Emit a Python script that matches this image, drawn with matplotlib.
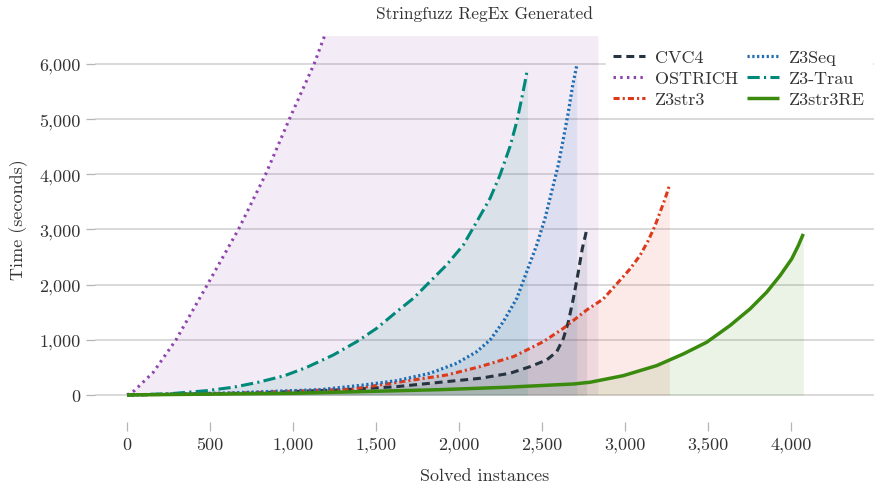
import matplotlib
matplotlib.use("Agg")
import numpy as np
from matplotlib import pyplot as plt
from matplotlib.ticker import FuncFormatter

plt.rcParams['font.family'] = ['cmr10', 'DejaVu Serif']
plt.rcParams['mathtext.fontset'] = 'cm'
plt.rcParams['axes.formatter.use_mathtext'] = True

# Cactus data (solved instances vs. cumulative time)
cvc4_x = [0, 700, 1323, 1625, 1926, 2127, 2307, 2428, 2528, 2589, 2629, 2659, 2689, 2719, 2743, 2769]
cvc4_y = [0, 30, 96, 151, 242, 302, 393, 513, 634, 785, 1027, 1329, 1752, 2235, 2658, 2990]

# OSTRICH leaves the plot at the top; its tail above 6500 s is hidden
ostrich_x = [0, 44, 158, 295, 484, 671, 835, 978, 1127, 1189, 1500, 2000, 2500, 2840]
ostrich_y = [0, 78, 411, 1000, 2000, 3000, 4000, 5000, 6000, 6500, 9000, 14000, 20000, 26000]

z3str3_x = [0, 700, 1361, 1725, 1926, 2127, 2328, 2508, 2629, 2769, 2869, 2950, 3030, 3090,
            3140, 3181, 3211, 3241, 3267]
z3str3_y = [0, 35, 109, 272, 362, 513, 695, 966, 1208, 1540, 1740, 2012, 2284, 2526,
            2798, 3069, 3311, 3553, 3794]

z3seq_x = [0, 600, 1163, 1424, 1625, 1825, 1986, 2107, 2187, 2267, 2348, 2408, 2468, 2518,
           2558, 2598, 2629, 2659, 2685, 2709]
z3seq_y = [0, 35, 96, 180, 260, 393, 574, 785, 997, 1329, 1752, 2235, 2718, 3201,
           3684, 4168, 4651, 5134, 5617, 5968]

z3trau_x = [0, 250, 480, 640, 791, 950, 1082, 1243, 1384, 1504, 1625, 1725, 1825, 1925,
            2026, 2107, 2187, 2247, 2307, 2348, 2378, 2398, 2412]
z3trau_y = [0, 20, 78, 140, 230, 350, 500, 725, 966, 1208, 1510, 1752, 2054, 2356,
            2718, 3141, 3564, 3986, 4500, 4953, 5376, 5678, 5907]

z3str3re_x = [0, 1000, 1886, 2287, 2689, 2789, 2990, 3191, 3351, 3492, 3632, 3753, 3853,
              3934, 4004, 4044, 4074]
z3str3re_y = [0, 30, 96, 140, 199, 230, 350, 532, 743, 955, 1257, 1559, 1861,
              2163, 2465, 2707, 2918]

fig = plt.figure(figsize=(8.74, 4.89), dpi=100)
ax = fig.add_axes([0.1087, 0.179, 0.8913, 0.7447])

series = [
    ("CVC4", cvc4_x, cvc4_y, "#263340", (0, (2.6, 1.6)), 2.2),
    ("OSTRICH", ostrich_x, ostrich_y, "#8e44ad", (0, (0.8, 1.4)), 2.2),
    ("Z3str3", z3str3_x, z3str3_y, "#dd3a1c", (0, (2.0, 1.0, 0.7, 1.0)), 2.2),
    ("Z3Seq", z3seq_x, z3seq_y, "#1f6db4", (0, (0.7, 0.8)), 2.3),
    ("Z3-Trau", z3trau_x, z3trau_y, "#00897b", (0, (4.0, 1.4, 0.7, 1.4)), 2.2),
    ("Z3str3RE", z3str3re_x, z3str3re_y, "#3a8a0e", "-", 2.5),
]

for name, xs, ys, c, ls, lw in series:
    ax.fill_between(xs, 0, ys, color=c, alpha=0.1, lw=0)
    ax.plot(xs, ys, color=c, linestyle=ls, lw=lw, label=name,
            solid_capstyle="butt", dash_capstyle="butt", solid_joinstyle="round")

ax.set_xlim(-193, 4500)
ax.set_ylim(-100, 6500)
ax.set_xticks(np.arange(0, 4001, 500))
ax.set_yticks(np.arange(0, 6001, 1000))
fmt = FuncFormatter(lambda v, p: f"{int(v):,}")
ax.xaxis.set_major_formatter(fmt)
ax.yaxis.set_major_formatter(fmt)

ax.grid(axis="y", color="#d3d3d3", lw=1.2)
ax.set_axisbelow(True)
for s in ax.spines.values():
    s.set_visible(False)
ax.spines["bottom"].set_position(("outward", 15.5))
ax.tick_params(axis="both", colors="#b5b5b5", length=6.5, width=0.9,
               labelcolor="#333333", labelsize=13)
ax.tick_params(axis="x", pad=4)
ax.tick_params(axis="y", pad=4)

ax.set_xlabel("Solved instances", fontsize=13, color="#333333", labelpad=11.5)
ax.set_ylabel("Time (seconds)", fontsize=13, color="#333333", labelpad=8)
ax.set_title("Stringfuzz RegEx Generated", fontsize=12.5, color="#333333", pad=13)

leg = ax.legend(loc="upper right", bbox_to_anchor=(1.0, 0.988), ncol=2, fontsize=13,
                frameon=True, framealpha=1, edgecolor="white", facecolor="white",
                handlelength=1.8, handletextpad=0.55, columnspacing=0.45,
                labelspacing=0.3, borderaxespad=0.1, fancybox=False)
for t in leg.get_texts():
    t.set_color("#333333")

plt.savefig("out.png", dpi=100)
